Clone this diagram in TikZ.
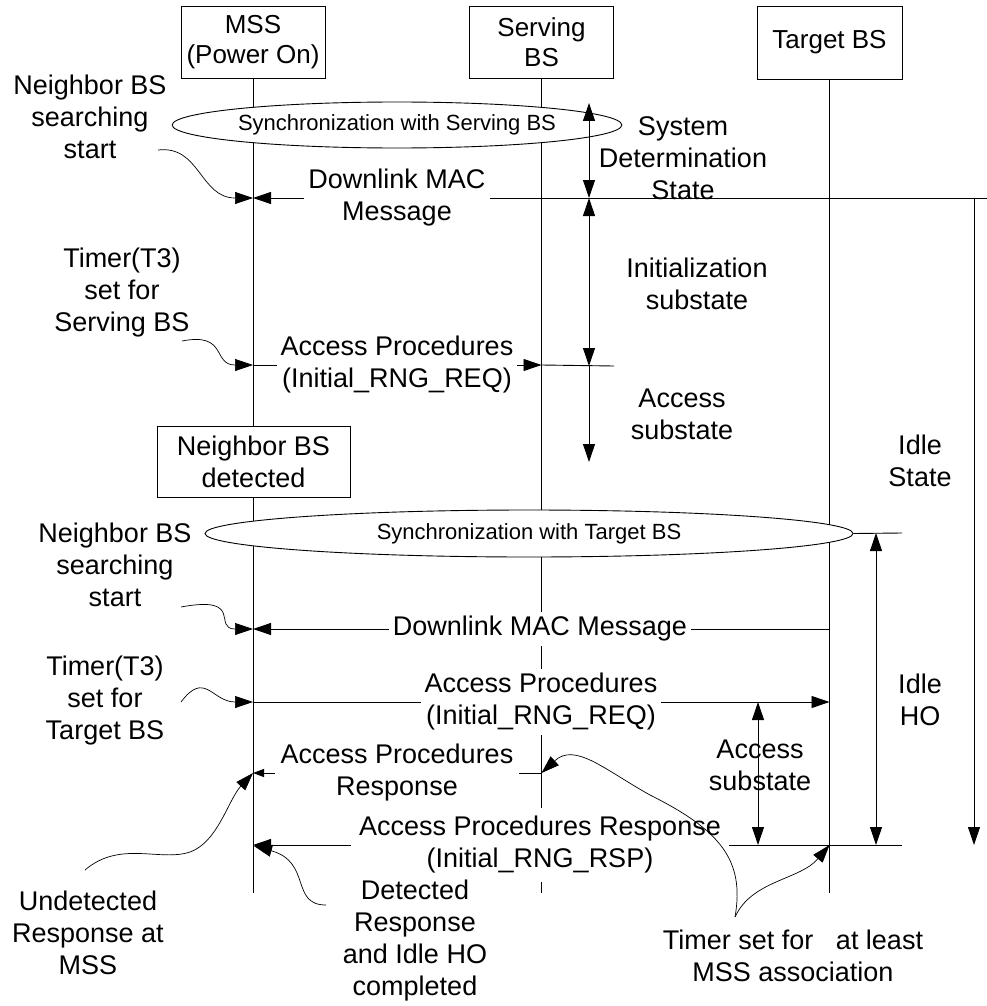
\documentclass[tikz,border=0pt]{standalone}
\usepackage{fontspec}
\setmainfont{Liberation Sans}
\usetikzlibrary{arrows.meta,shapes.geometric}
\begin{document}
\begin{tikzpicture}[x=1pt,y=-1pt,
  every node/.style={font=\fontsize{27}{32}\selectfont},
  ln/.style={line width=0.9pt},
  tipb/.tip={Triangle[length=18pt,width=12pt]},
  tips/.tip={Triangle[length=11pt,width=8pt]},
  msg/.style={ln,-tipb},
  msgsmall/.style={ln,-tips},
  dbl/.style={ln,tipb-tipb},
  ann/.style={line width=0.7pt,-tipb},
  box/.style={draw,line width=0.9pt,align=center,inner sep=0pt,font=\fontsize{26}{30}\selectfont},
  lbl/.style={fill=white,align=center,inner sep=4pt},
  txt/.style={align=center,inner sep=0pt},
  sync/.style={draw,ellipse,fill=white,line width=0.9pt,inner sep=0pt,font=\fontsize{22}{26}\selectfont}
]
\useasboundingbox (0,0) rectangle (987,1006);

% lifeline heads
\node[box,minimum width=144pt,minimum height=72pt] (mss) at (253,42) {MSS\\(Power On)};
\node[box,minimum width=144pt,minimum height=72pt] (srv) at (541.5,42) {Serving\\BS};
\node[box,minimum width=145pt,minimum height=73pt] (tgt) at (829.5,42.5) {Target BS};

% coordinates
\coordinate (mssE) at (253,893);
\coordinate (srvE) at (541.5,893);
\coordinate (tgtE) at (829.5,893);
\coordinate (mA) at (253,198);
\coordinate (mB) at (253,365);
\coordinate (mC) at (253,629);
\coordinate (mD) at (253,702);
\coordinate (mE) at (253,773);
\coordinate (mF) at (253,845);
\coordinate (sB) at (541.5,365);
\coordinate (sE) at (541.5,773);
\coordinate (tC) at (829.5,629);
\coordinate (tD) at (829.5,702);
\coordinate (tF) at (829.5,845);
\coordinate (rA) at (987,198);
\coordinate (bB) at (614,366);
\coordinate (bS) at (902,533);
\coordinate (bFl) at (733,845);
\coordinate (bFr) at (902,845);
\coordinate (sd1) at (589,103);
\coordinate (sd2) at (589,198);
\coordinate (sd3) at (589,366);
\coordinate (sd4) at (589,462);
\coordinate (is1) at (974,198);
\coordinate (is2) at (974,845);
\coordinate (ih1) at (876,533);
\coordinate (ih2) at (876,845);
\coordinate (as1) at (758,702);
\coordinate (as2) at (758,845);

% lifelines
\draw[ln] (mss) -- (mssE);
\draw[ln] (srv) -- (srvE);
\draw[ln] (tgt) -- (tgtE);

% neighbor detected box (on MSS lifeline)
\node[box,fill=white,minimum width=193pt,minimum height=71pt,font=\fontsize{27}{32}\selectfont] (nbr) at (253.5,461.5) {Neighbor BS\\detected};

% message lines
\draw[msg] (rA) -- (mA);
\draw[msg] (mB) -- (sB);
\draw[msg] (tC) -- (mC);
\draw[msg] (mD) -- (tD);
\draw[msgsmall] (sE) -- (mE);
\draw[msg] (tF) -- (mF);

% boundary lines
\draw[ln] (sB) -- (bB);
\draw[ln] (bFl) -- (bFr);

% ellipses
\node[sync,minimum width=384pt,minimum height=46pt] (sync1) at (397,125) {Synchronization with Serving BS};
\node[sync,minimum width=648pt,minimum height=47pt] (sync2) at (529,533.5) {Synchronization with Target BS};
\draw[ln] (sync2.east) -- (bS);

% message labels
\node[lbl] (dl1) at (397,198) {Downlink MAC\\Message};
\node[lbl] (ap1) at (397,365) {Access Procedures\\(Initial\_RNG\_REQ)};
\node[lbl] (dl2) at (540,629) {Downlink MAC Message};
\node[lbl] (ap2) at (541,702) {Access Procedures\\(Initial\_RNG\_REQ)};
\node[lbl,inner sep=6pt] (apr1) at (397,773) {Access Procedures\\Response};
\node[lbl,inner sep=8pt] (apr2) at (540,845) {Access Procedures Response\\(Initial\_RNG\_RSP)};

% state arrows
\draw[dbl] (sd1) -- (sd2);
\draw[dbl] (sd2) -- (sd3);
\draw[msg] (sd3) -- (sd4);
\draw[msg] (is1) -- (is2);
\draw[dbl] (ih1) -- (ih2);
\draw[dbl] (as1) -- (as2);

% state labels
\node[txt] (st1) at (683,158) {System\\Determination\\State};
\node[txt] (st2) at (697,284) {Initialization\\substate};
\node[txt] (st3) at (682,414) {Access\\substate};
\node[txt] (st4) at (920,461) {Idle\\State};
\node[txt] (st5) at (920,700) {Idle\\HO};
\node[txt] (st6) at (760,765) {Access\\substate};

% annotation labels
\node[txt] (n1) at (90,117) {Neighbor BS\\searching\\start};
\node[txt] (t1) at (122,293) {Timer(T3)\\set for\\Serving BS};
\node[txt] (n2) at (115,565) {Neighbor BS\\searching\\start};
\node[txt] (t2) at (105,701) {Timer(T3)\\set for\\Target BS};
\node[txt] (un) at (88,933) {Undetected\\Response at\\MSS};
\node[txt] (dt) at (415,941) {Detected\\Response\\and Idle HO\\completed};
\node[txt] (ts) at (793,956) {Timer set for~~ at least\\MSS association};

% annotation curves
\coordinate (c1) at (158,150);
\coordinate (c2) at (182,341);
\coordinate (c3) at (181,607);
\coordinate (c4) at (181,702);
\coordinate (c5) at (85,870);
\coordinate (c6) at (326,905);
\coordinate (c7) at (735,917);
\draw[ann] (c1) .. controls (200,145) and (200,198) .. (mA);
\draw[ann] (c2) .. controls (228,332) and (212,365) .. (mB);
\draw[ann] (c3) .. controls (245,595) and (212,629) .. (mC);
\draw[ann] (c4) .. controls (205,670) and (212,702) .. (mD);
\draw[ann] (c5) .. controls (120,840) and (160,862) .. (190,852) .. controls (218,842) and (228,800) .. (mE);
\draw[ann] (c6) .. controls (290,905) and (312,862) .. (254,846);
\draw[ann] (c7) .. controls (745,860) and (720,830) .. (650,795) .. controls (605,770) and (575,742) .. (sE);
\draw[ann] (c7) .. controls (752,880) and (800,880) .. (tF);
\end{tikzpicture}
\end{document}
